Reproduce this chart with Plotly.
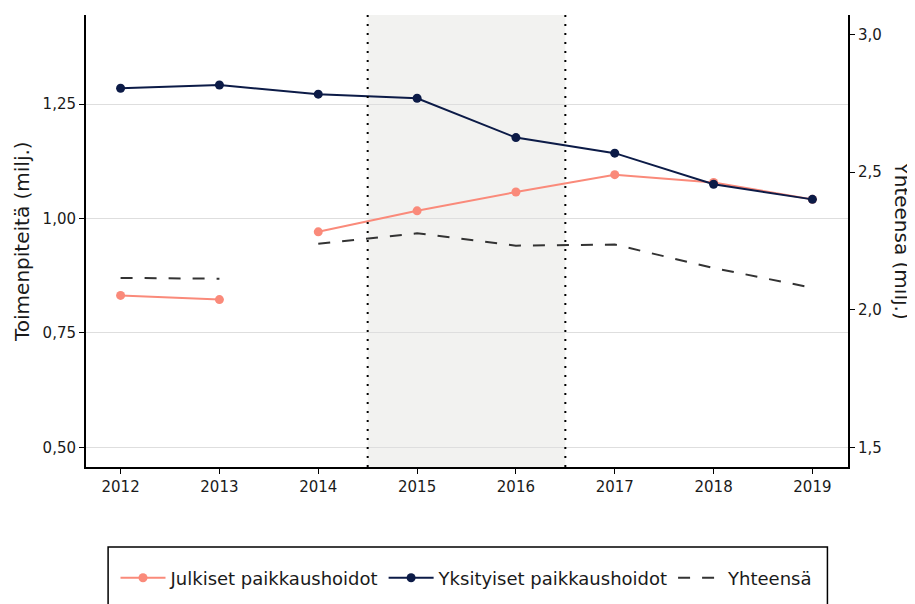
import plotly.graph_objects as go

years = [2012, 2013, 2014, 2015, 2016, 2017, 2018, 2019]
julkiset = [0.832, 0.823, 0.971, 1.017, 1.058, 1.096, 1.079, 1.042]
yksityiset = [1.285, 1.292, 1.272, 1.263, 1.177, 1.143, 1.075, 1.042]
yhteensa = [2.116, 2.113, 2.240, 2.278, 2.233, 2.237, 2.152, 2.080]
break_after = 2  # series have a gap between 2013 and 2014
shade_start, shade_end = 2014.5, 2016.5
left_ticks = [0.50, 0.75, 1.00, 1.25]
right_ticks = [1.5, 2.0, 2.5, 3.0]

SALMON = "#fa8a7a"
NAVY = "#0c1b47"
DASH = "#333333"
FONT = "DejaVu Sans"
TXT = "#1a1a1a"

fig = go.Figure()

fig.add_trace(go.Scatter(x=years[:break_after], y=julkiset[:break_after], mode="lines+markers",
                         name="Julkiset paikkaushoidot", legendgroup="j",
                         line=dict(color=SALMON, width=2), marker=dict(size=9, color=SALMON)))
fig.add_trace(go.Scatter(x=years[break_after:], y=julkiset[break_after:], mode="lines+markers",
                         name="Julkiset paikkaushoidot", legendgroup="j", showlegend=False,
                         line=dict(color=SALMON, width=2), marker=dict(size=9, color=SALMON)))
fig.add_trace(go.Scatter(x=years, y=yksityiset, mode="lines+markers",
                         name="Yksityiset paikkaushoidot",
                         line=dict(color=NAVY, width=2), marker=dict(size=9, color=NAVY)))
fig.add_trace(go.Scatter(x=years[:break_after], y=yhteensa[:break_after], mode="lines",
                         name="Yhteensä", legendgroup="y", yaxis="y2",
                         line=dict(color=DASH, width=2, dash="12px,12px")))
fig.add_trace(go.Scatter(x=years[break_after:], y=yhteensa[break_after:], mode="lines",
                         name="Yhteensä", legendgroup="y", yaxis="y2", showlegend=False,
                         line=dict(color=DASH, width=2, dash="12px,12px")))

shapes = [
    dict(type="rect", xref="x", yref="paper", x0=shade_start, x1=shade_end, y0=0, y1=1,
         fillcolor="#f2f2f0", line=dict(width=0), layer="below"),
    dict(type="line", xref="x", yref="paper", x0=shade_start, x1=shade_start, y0=0, y1=1,
         line=dict(color="black", width=2, dash="2px,7px")),
    dict(type="line", xref="x", yref="paper", x0=shade_end, x1=shade_end, y0=0, y1=1,
         line=dict(color="black", width=2, dash="2px,7px")),
    dict(type="rect", xref="paper", yref="paper", x0=0.029, x1=0.973, y0=-0.177, y1=-0.36,
         line=dict(color="black", width=1.5), fillcolor="rgba(0,0,0,0)"),
]

# page has an 8px body margin; figure is sized so the plot lands where the reference's does
fig.update_layout(
    width=907, height=596,
    margin=dict(l=78, r=67, t=7, b=137, autoexpand=False),
    plot_bgcolor="white", paper_bgcolor="white",
    separators=", ",
    font=dict(family=FONT, size=15, color=TXT),
    showlegend=True,
    legend=dict(orientation="h", x=0.5, xanchor="center", yref="container", y=0.0436,
                yanchor="middle", font=dict(size=18, color=TXT), bgcolor="rgba(0,0,0,0)",
                itemwidth=45),
    shapes=shapes,
    xaxis=dict(range=[2011.65, 2019.36], tickvals=years, showgrid=False, zeroline=False,
               showline=True, linecolor="black", linewidth=2, ticks="outside", ticklen=5,
               tickcolor="black", tickfont=dict(size=15), automargin=False),
    yaxis=dict(range=[0.457, 1.445], tickvals=left_ticks, tickformat=".2f",
               showgrid=True, gridcolor="#dedede", gridwidth=1, zeroline=False,
               showline=True, linecolor="black", linewidth=2, ticks="outside", ticklen=5,
               tickcolor="black", tickfont=dict(size=15), automargin=False),
    yaxis2=dict(range=[1.429, 3.071], tickvals=right_ticks, tickformat=".1f",
                overlaying="y", side="right", showgrid=False, zeroline=False,
                showline=True, linecolor="black", linewidth=2, ticks="outside", ticklen=5,
                tickcolor="black", tickfont=dict(size=15), automargin=False),
    annotations=[
        dict(text="Toimenpiteitä (milj.)", xref="paper", yref="paper", x=-0.084, y=0.5,
             xanchor="center", yanchor="middle", textangle=-90, showarrow=False,
             font=dict(size=20, color=TXT)),
        dict(text="Yhteensä (milj.)", xref="paper", yref="paper", x=1.0715, y=0.5,
             xanchor="center", yanchor="middle", textangle=90, showarrow=False,
             font=dict(size=20, color=TXT)),
    ],
)

fig.write_html("out.html")
